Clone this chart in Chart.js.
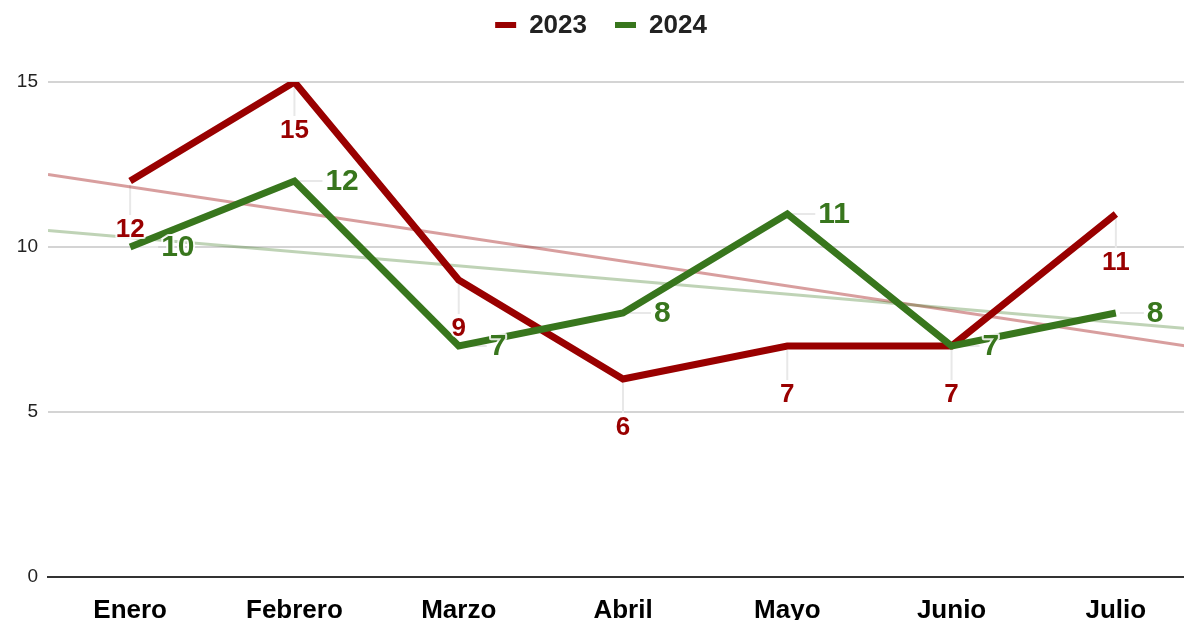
<!DOCTYPE html>
<html>
<head>
<meta charset="utf-8">
<title>2023 vs 2024</title>
<script src="https://cdn.jsdelivr.net/npm/chart.js@4.4.1/dist/chart.umd.min.js"></script>
<style>
  html, body { margin: 0; padding: 0; background: #fff; overflow: hidden; }
  #wrap { width: 1184px; height: 620px; overflow: hidden; }
  canvas { display: block; }
</style>
</head>
<body>
<div id="wrap"><canvas id="chart" width="1198" height="640"></canvas></div>
<script>
// ── Data ───────────────────────────────────
var months   = ['Enero', 'Febrero', 'Marzo', 'Abril', 'Mayo', 'Junio', 'Julio'];
var vals2023 = [12, 15, 9, 6, 7, 7, 11];
var vals2024 = [10, 12, 7, 8, 11, 7, 8];
var yTicks   = [0, 5, 10, 15];

var RED = '#990000';
var GREEN = '#38761d';
var FONT = "'Liberation Sans', Arial, sans-serif";

// ── Helpers ────────────────────────────────
function toPoints(arr) {
  return arr.map(function(v, i) { return { x: i, y: v }; });
}

// least squares trendline, spanning the whole plot
function trendPoints(arr, x0, x1) {
  var n = arr.length, sx = 0, sy = 0, sxy = 0, sxx = 0;
  arr.forEach(function(v, i) { sx += i; sy += v; sxy += i * v; sxx += i * i; });
  var slope = (n * sxy - sx * sy) / (n * sxx - sx * sx);
  var icpt = (sy - slope * sx) / n;
  return [{ x: x0, y: icpt + slope * x0 }, { x: x1, y: icpt + slope * x1 }];
}

// ── Plugins ────────────────────────────────
var legendPlugin = {
  id: 'topLegend',
  afterDraw: function(chart) {
    var ctx = chart.ctx;
    var items = chart.data.datasets.filter(function(d) { return !d.isTrend; });
    ctx.save();
    ctx.font = 'bold 26px ' + FONT;
    var mark = 21, gap = 13, space = 28;
    var total = 0;
    items.forEach(function(d, i) {
      total += mark + gap + ctx.measureText(d.label).width + (i ? space : 0);
    });
    var x = chart.width / 2 - total / 2 + 2;
    var y = 25;
    items.forEach(function(d) {
      ctx.strokeStyle = d.borderColor;
      ctx.lineWidth = 6;
      ctx.lineCap = 'butt';
      ctx.beginPath();
      ctx.moveTo(x, y);
      ctx.lineTo(x + mark, y);
      ctx.stroke();
      x += mark + gap;
      ctx.fillStyle = '#222';
      ctx.textAlign = 'left';
      ctx.textBaseline = 'middle';
      ctx.fillText(d.label, x, y + 1);
      x += ctx.measureText(d.label).width + space;
    });
    ctx.restore();
  }
};

// red labels below the point, green labels right of the point
var labelPlugin = {
  id: 'valueLabels',
  beforeDatasetsDraw: function(chart) {
    var ctx = chart.ctx;
    ctx.save();
    ctx.strokeStyle = '#e8e8e8';
    ctx.lineWidth = 2;
    chart.data.datasets.forEach(function(d, di) {
      if (d.isTrend) return;
      chart.getDatasetMeta(di).data.forEach(function(pt) {
        ctx.beginPath();
        if (d.labelPos === 'below') {
          ctx.moveTo(pt.x, pt.y + 4);
          ctx.lineTo(pt.x, pt.y + 34);
        } else {
          ctx.moveTo(pt.x + 4, pt.y);
          ctx.lineTo(pt.x + 28, pt.y);
        }
        ctx.stroke();
      });
    });
    ctx.restore();
  },
  afterDatasetsDraw: function(chart) {
    var ctx = chart.ctx;
    ctx.save();
    ctx.textBaseline = 'middle';
    ctx.lineJoin = 'round';
    chart.data.datasets.forEach(function(d, di) {
      if (d.isTrend) return;
      ctx.font = 'bold ' + d.labelSize + 'px ' + FONT;
      chart.getDatasetMeta(di).data.forEach(function(pt, i) {
        var txt = String(d.data[i].y);
        var tx, ty;
        if (d.labelPos === 'below') {
          ctx.textAlign = 'center';
          tx = pt.x; ty = pt.y + 49;
        } else {
          ctx.textAlign = 'left';
          tx = pt.x + 31; ty = pt.y + 1;
        }
        ctx.strokeStyle = 'rgba(255,255,255,0.85)';
        ctx.lineWidth = 4;
        ctx.strokeText(txt, tx, ty);
        ctx.fillStyle = d.borderColor;
        ctx.fillText(txt, tx, ty);
      });
    });
    ctx.restore();
  }
};

// ── Chart ──────────────────────────────────
var ctx = document.getElementById('chart');
new Chart(ctx, {
  type: 'line',
  data: {
    datasets: [
      {
        label: '2023', data: toPoints(vals2023), labelPos: 'below', labelSize: 26,
        borderColor: RED, backgroundColor: RED, borderWidth: 7,
        pointRadius: 0, tension: 0, order: 1
      },
      {
        label: '2024', data: toPoints(vals2024), labelPos: 'right', labelSize: 30,
        borderColor: GREEN, backgroundColor: GREEN, borderWidth: 7,
        pointRadius: 0, tension: 0, order: 0
      },
      {
        label: 'Tendencia 2023', data: trendPoints(vals2023, -0.5, 6.5), isTrend: true,
        borderColor: 'rgba(153,0,0,0.38)', borderWidth: 3, pointRadius: 0, order: 3
      },
      {
        label: 'Tendencia 2024', data: trendPoints(vals2024, -0.5, 6.5), isTrend: true,
        borderColor: 'rgba(56,118,29,0.32)', borderWidth: 3, pointRadius: 0, order: 2
      }
    ]
  },
  options: {
    responsive: false,
    animation: false,
    devicePixelRatio: 1,
    layout: { padding: { top: 82, left: 0, right: 0, bottom: 0 } },
    plugins: {
      legend: { display: false },
      tooltip: { enabled: false }
    },
    scales: {
      x: {
        type: 'linear',
        min: -0.5,
        max: 6.5,
        afterBuildTicks: function(scale) {
          scale.ticks = months.map(function(m, i) { return { value: i }; });
        },
        afterFit: function(scale) { scale.height = 63; },
        ticks: {
          autoSkip: false,
          maxRotation: 0,
          padding: 18,
          color: '#000',
          font: { family: FONT, size: 26, weight: 'bold' },
          callback: function(v) { return months[v]; }
        },
        grid: { display: false, drawTicks: false },
        border: { display: true, color: '#333', width: 2 }
      },
      y: {
        min: 0,
        max: 15,
        afterBuildTicks: function(scale) {
          scale.ticks = yTicks.map(function(v) { return { value: v }; });
        },
        afterFit: function(scale) { scale.width = 48; },
        ticks: {
          padding: 10,
          color: '#222',
          font: { family: FONT, size: 19 }
        },
        grid: {
          drawTicks: false,
          lineWidth: 2,
          color: function(c) { return c.tick && c.tick.value === 0 ? 'rgba(0,0,0,0)' : '#d4d4d4'; }
        },
        border: { display: false }
      }
    }
  },
  plugins: [legendPlugin, labelPlugin]
});
</script>
</body>
</html>
